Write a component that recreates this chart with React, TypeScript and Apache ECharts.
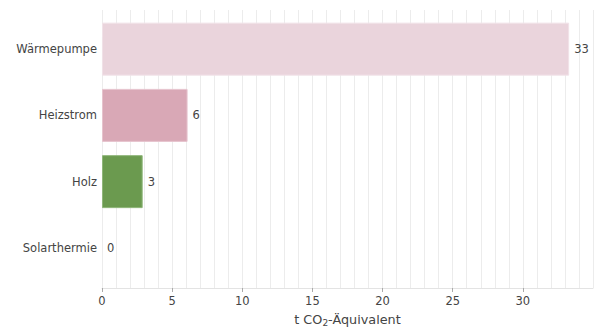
import React, { useEffect, useRef } from "react";
import * as echarts from "echarts";

const categories = ["Wärmepumpe", "Heizstrom", "Holz", "Solarthermie"];
const values = [33.3, 6.1, 2.9, 0];
const barColors = ["#ead4dc", "#d9a8b6", "#6b9a4f", "#6b9a4f"];
const borderColors = ["#f1e2e8", "#e6c3cd", "#8fb67a", "#8fb67a"];

const FONT = "DejaVu Sans";
const TXT = "#444444";

export default function App() {
  const ref = useRef<HTMLDivElement>(null);
  useEffect(() => {
    if (!ref.current) return;
    const chart = echarts.init(ref.current, undefined, { renderer: "svg" });
    const xRange = { min: 0, max: 35 };
    chart.setOption({
      animation: false,
      grid: [
        { left: 102, right: 6, top: 16, bottom: 46, outerBoundsMode: "none", containLabel: false },
        { left: 102, right: 6, top: 10, bottom: 39, outerBoundsMode: "none", containLabel: false },
      ],
      xAxis: [
        {
          gridIndex: 0,
          type: "value",
          ...xRange,
          show: false,
        },
        {
          gridIndex: 1,
          type: "value",
          ...xRange,
          interval: 5,
          axisLine: { show: true, lineStyle: { color: "#e3e3e3", width: 1 } },
          axisTick: { show: true, length: 4, lineStyle: { color: "#aaaaaa" } },
          axisLabel: {
            color: TXT,
            fontFamily: FONT,
            fontSize: 11.5,
            margin: 7,
            showMaxLabel: false,
          },
          splitLine: { show: true, lineStyle: { color: "#ececec", width: 1 } },
          minorTick: { show: false, splitNumber: 5 },
          minorSplitLine: { show: true, lineStyle: { color: "#ececec", width: 1 } },
          name: "t CO{sub|2}-Äquivalent",
          nameLocation: "middle",
          nameGap: 22,
          nameTextStyle: {
            color: TXT,
            fontFamily: FONT,
            fontSize: 12.8,
            lineHeight: 16,
            rich: {
              sub: {
                fontFamily: FONT,
                fontSize: 9,
                lineHeight: 9,
                color: TXT,
                verticalAlign: "bottom",
              },
            },
          },
        },
      ],
      yAxis: [
        {
          gridIndex: 0,
          type: "category",
          data: categories,
          inverse: true,
          axisLine: { show: false },
          axisTick: { show: false },
          axisLabel: {
            color: TXT,
            fontFamily: FONT,
            fontSize: 11.5,
            margin: 5,
          },
        },
        {
          gridIndex: 1,
          type: "value",
          show: false,
        },
      ],
      series: [
        {
          type: "bar",
          xAxisIndex: 0,
          yAxisIndex: 0,
          barWidth: "80%",
          data: values.map((v, i) => ({
            value: v,
            itemStyle: {
              color: barColors[i],
              borderColor: borderColors[i],
              borderWidth: v > 0 ? 1 : 0,
            },
          })),
          label: {
            show: true,
            position: "right",
            distance: 5,
            color: TXT,
            fontFamily: FONT,
            fontSize: 11.5,
            formatter: (p: any) => String(Math.round(p.value)),
          },
        },
      ],
    });
    return () => chart.dispose();
  }, []);
  return (
    <div
      ref={ref}
      style={{ position: "absolute", left: 0, top: 0, width: 599, height: 327 }}
    />
  );
}
